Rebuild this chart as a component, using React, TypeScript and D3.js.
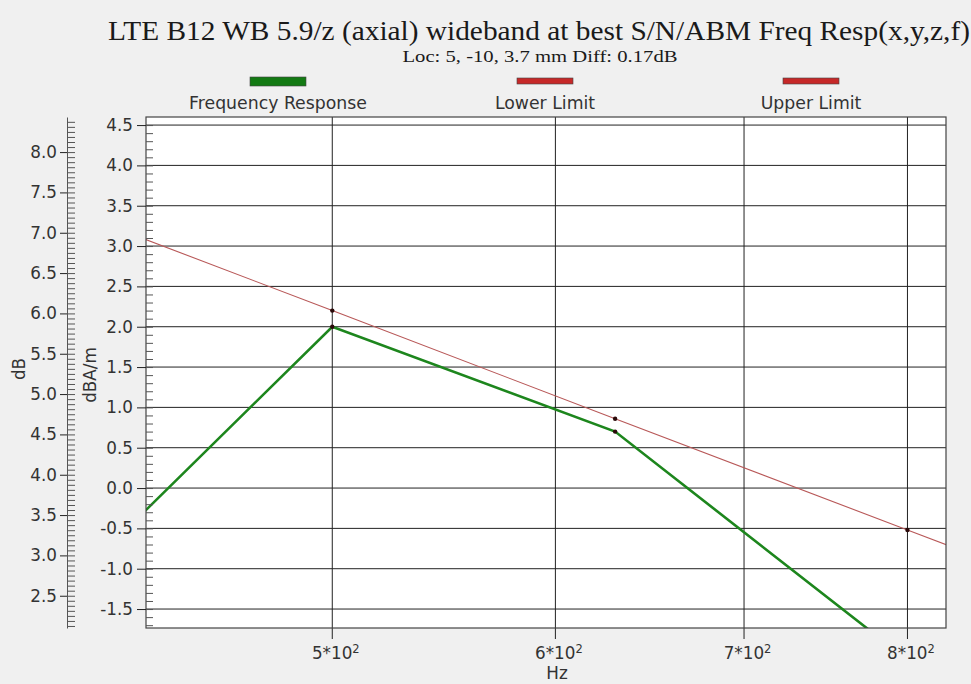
import * as d3 from 'd3';
import { useEffect, useRef } from 'react';

const title = 'LTE B12 WB 5.9/z (axial) wideband at best S/N/ABM Freq Resp(x,y,z,f)';
const subtitle = 'Loc: 5, -10, 3.7 mm Diff: 0.17dB';

const seriesNames = ['Frequency Response', 'Lower Limit', 'Upper Limit'];
const seriesColors = ['#137a13', '#c62828', '#c62828'];

// values in dBA/m
const responseHz = [400, 500, 630, 800];
const responseDb = [-1.33, 2.0, 0.7, -2.13];
const limitHz = [400, 500, 630, 800, 1000];
const upperLimitDb = [3.49, 2.2, 0.86, -0.52, -1.81];

const hzTicks = [500, 600, 700, 800];
const hzTickLabels = ['5*10', '6*10', '7*10', '8*10'];
const hzTickExp = '2';
const dbaTicks = [-1.5, -1.0, -0.5, 0.0, 0.5, 1.0, 1.5, 2.0, 2.5, 3.0, 3.5, 4.0, 4.5];
const dbTicks = [2.5, 3.0, 3.5, 4.0, 4.5, 5.0, 5.5, 6.0, 6.5, 7.0, 7.5, 8.0];
const dbOffset = 3.835; // dB = dBA/m + offset

export default function App() {
    const ref = useRef<SVGSVGElement | null>(null);

    useEffect(() => {
        if (!ref.current) return;
        const svg = d3.select(ref.current);
        svg.selectAll('*').remove();

        const width = 971;
        const height = 684;
        const plot = { left: 146, right: 946, top: 117, bottom: 628 };
        const sans = 'DejaVu Sans';
        const textColor = '#333';
        const fs = 16.8;

        const x = d3.scaleLog().domain([429.4, 825.6]).range([plot.left, plot.right]);
        const y = d3.scaleLinear().domain([-1.735, 4.6]).range([plot.bottom, plot.top]);
        const yDb = d3
            .scaleLinear()
            .domain([-1.735 + dbOffset, 4.6 + dbOffset])
            .range([plot.bottom, plot.top]);

        svg.append('rect').attr('width', width).attr('height', height).attr('fill', '#f0f0f0');

        // titles
        svg.append('text')
            .attr('x', 539)
            .attr('y', 40)
            .attr('text-anchor', 'middle')
            .attr('font-family', 'Liberation Serif')
            .attr('font-size', 28)
            .attr('textLength', 862)
            .attr('lengthAdjust', 'spacingAndGlyphs')
            .attr('fill', '#1a1a1a')
            .text(title);
        svg.append('text')
            .attr('x', 540)
            .attr('y', 62)
            .attr('text-anchor', 'middle')
            .attr('font-family', 'Liberation Serif')
            .attr('font-size', 17)
            .attr('textLength', 275)
            .attr('lengthAdjust', 'spacingAndGlyphs')
            .attr('fill', '#1a1a1a')
            .text(subtitle);

        // legend
        const legendX = [278, 545, 811];
        const legend = svg.append('g');
        seriesNames.forEach((name, i) => {
            const thick = i === 0;
            legend
                .append('rect')
                .attr('x', legendX[i] - 28)
                .attr('y', thick ? 77 : 78)
                .attr('width', 56)
                .attr('height', thick ? 9 : 6)
                .attr('fill', seriesColors[i])
                .attr('stroke', '#444')
                .attr('stroke-width', 0.6);
            legend
                .append('text')
                .attr('x', legendX[i])
                .attr('y', 109)
                .attr('text-anchor', 'middle')
                .attr('font-family', sans)
                .attr('font-size', 17.3)
                .attr('fill', textColor)
                .text(name);
        });

        // plot area
        svg.append('rect')
            .attr('x', plot.left)
            .attr('y', plot.top)
            .attr('width', plot.right - plot.left)
            .attr('height', plot.bottom - plot.top)
            .attr('fill', '#fff');

        // grid
        svg.append('g')
            .selectAll('line')
            .data(dbaTicks)
            .join('line')
            .attr('x1', plot.left)
            .attr('x2', plot.right)
            .attr('y1', (d) => y(d))
            .attr('y2', (d) => y(d))
            .attr('stroke', '#222')
            .attr('stroke-width', 1);
        svg.append('g')
            .selectAll('line')
            .data(hzTicks)
            .join('line')
            .attr('x1', (d) => x(d))
            .attr('x2', (d) => x(d))
            .attr('y1', plot.top)
            .attr('y2', plot.bottom + 11)
            .attr('stroke', '#222')
            .attr('stroke-width', 1);

        // lines
        svg.append('clipPath')
            .attr('id', 'plot-clip')
            .append('rect')
            .attr('x', plot.left)
            .attr('y', plot.top)
            .attr('width', plot.right - plot.left)
            .attr('height', plot.bottom - plot.top);
        const body = svg.append('g').attr('clip-path', 'url(#plot-clip)');

        const line = d3
            .line<[number, number]>()
            .x((d) => x(d[0]))
            .y((d) => y(d[1]));

        const upper: [number, number][] = limitHz.map((f, i) => [f, upperLimitDb[i]]);
        const response: [number, number][] = responseHz.map((f, i) => [f, responseDb[i]]);

        body.append('path')
            .attr('d', line(upper))
            .attr('fill', 'none')
            .attr('stroke', '#b85858')
            .attr('stroke-width', 1.1);
        body.append('path')
            .attr('d', line(response))
            .attr('fill', 'none')
            .attr('stroke', '#1d861d')
            .attr('stroke-width', 2.6);

        body.append('g')
            .selectAll('circle')
            .data([...upper, ...response])
            .join('circle')
            .attr('cx', (d) => x(d[0]))
            .attr('cy', (d) => y(d[1]))
            .attr('r', 2.2)
            .attr('fill', '#2a0a0a');

        svg.append('rect')
            .attr('x', plot.left)
            .attr('y', plot.top)
            .attr('width', plot.right - plot.left)
            .attr('height', plot.bottom - plot.top)
            .attr('fill', 'none')
            .attr('stroke', '#444')
            .attr('stroke-width', 1.2);

        // dBA/m axis
        const yAxis = svg
            .append('g')
            .attr('transform', `translate(${plot.left},0)`)
            .call(
                d3
                    .axisLeft(y)
                    .tickValues(dbaTicks)
                    .tickSizeInner(9)
                    .tickSizeOuter(0)
                    .tickPadding(4)
                    .tickFormat((d) => (+d).toFixed(1)),
            );
        yAxis.select('.domain').remove();
        yAxis.selectAll('line').attr('stroke', '#222');
        yAxis.selectAll('text').attr('font-family', sans).attr('font-size', fs).attr('fill', textColor);

        const yMinor = svg
            .append('g')
            .attr('transform', `translate(${plot.left},0)`)
            .call(
                d3
                    .axisRight(y)
                    .tickValues(d3.range(-17, 46).map((i) => i / 10))
                    .tickSize(7)
                    .tickFormat(() => ''),
            );
        yMinor.select('.domain').remove();
        yMinor.selectAll('line').attr('stroke', '#555');

        // dB axis
        const dbAxis = svg
            .append('g')
            .attr('transform', 'translate(67,0)')
            .call(
                d3
                    .axisLeft(yDb)
                    .tickValues(dbTicks)
                    .tickSizeInner(7)
                    .tickSizeOuter(0)
                    .tickPadding(3)
                    .tickFormat((d) => (+d).toFixed(1)),
            );
        dbAxis.select('.domain').attr('stroke', '#555');
        dbAxis.selectAll('line').attr('stroke', '#222');
        dbAxis.selectAll('text').attr('font-family', sans).attr('font-size', fs).attr('fill', textColor);

        const dbMinor = svg
            .append('g')
            .attr('transform', 'translate(67,0)')
            .call(
                d3
                    .axisRight(yDb)
                    .tickValues(d3.range(34, 135).map((i) => i / 16))
                    .tickSize(8)
                    .tickFormat(() => ''),
            );
        dbMinor.select('.domain').remove();
        dbMinor.selectAll('line').attr('stroke', '#555');

        // Hz tick labels with exponent
        const xLabels = svg.append('g');
        hzTicks.forEach((f, i) => {
            const t = xLabels
                .append('text')
                .attr('x', x(f) + 3.5)
                .attr('y', 659)
                .attr('text-anchor', 'middle')
                .attr('font-family', sans)
                .attr('font-size', fs)
                .attr('fill', textColor);
            t.append('tspan').text(hzTickLabels[i]);
            t.append('tspan').attr('dy', -6).attr('font-size', 11.5).text(hzTickExp);
        });

        // axis titles
        svg.append('text')
            .attr('x', 557)
            .attr('y', 679)
            .attr('text-anchor', 'middle')
            .attr('font-family', sans)
            .attr('font-size', fs)
            .attr('fill', textColor)
            .text('Hz');
        svg.append('text')
            .attr('transform', 'translate(25,369) rotate(-90)')
            .attr('text-anchor', 'middle')
            .attr('font-family', sans)
            .attr('font-size', fs)
            .attr('fill', textColor)
            .text('dB');
        svg.append('text')
            .attr('transform', 'translate(96,375) rotate(-90)')
            .attr('text-anchor', 'middle')
            .attr('font-family', sans)
            .attr('font-size', fs)
            .attr('fill', textColor)
            .text('dBA/m');
    }, []);

    return (
        <svg
            ref={ref}
            width={971}
            height={684}
            style={{ position: 'absolute', left: 0, top: 0, display: 'block' }}
        />
    );
}
